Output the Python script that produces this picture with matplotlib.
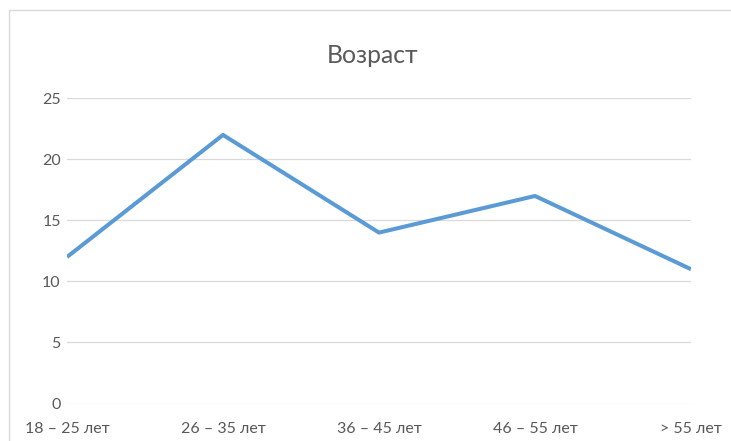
import matplotlib.pyplot as plt
from matplotlib.patches import Rectangle

# данные
categories = ["18 – 25 лет", "26 – 35 лет", "36 – 45 лет", "46 – 55 лет", "> 55 лет"]
values = [12, 22, 14, 17, 11]
yticks = [0, 5, 10, 15, 20, 25]

plt.rcParams['font.family'] = ['Lato', 'DejaVu Sans']

W, H = 731, 441
fig = plt.figure(figsize=(W / 100, H / 100), dpi=100)

# рамка области диаграммы (уходит за правый и нижний край)
fig.patches.append(Rectangle((9 / W, -0.1), 1.2, 1 - 10 / H + 0.1, transform=fig.transFigure,
                             fill=False, edgecolor='#d9d9d9', linewidth=1))

ax = fig.add_axes([67 / W, (H - 403.5) / H, (691 - 67) / W, (403.5 - 98.3) / H])
ax.plot(range(len(values)), values, color='#5b9bd5', linewidth=2.9, solid_capstyle='butt')

ax.set_xlim(0, len(values) - 1)
ax.set_ylim(0, 25)
ax.set_yticks(yticks)
ax.set_xticks(range(len(categories)))
ax.set_xticklabels(categories)
ax.grid(axis='y', color='#d9d9d9', linewidth=0.9)
ax.set_axisbelow(True)
for s in ax.spines.values():
    s.set_visible(False)
ax.tick_params(length=0, labelsize=11.5, colors='#595959')
ax.tick_params(axis='y', pad=4.5)
ax.tick_params(axis='x', pad=13)

fig.text(373 / W, 1 - 63 / H, "Возраст", ha='center', va='baseline', fontsize=17.8, color='#595959')

fig.savefig('out.png', dpi=100)
